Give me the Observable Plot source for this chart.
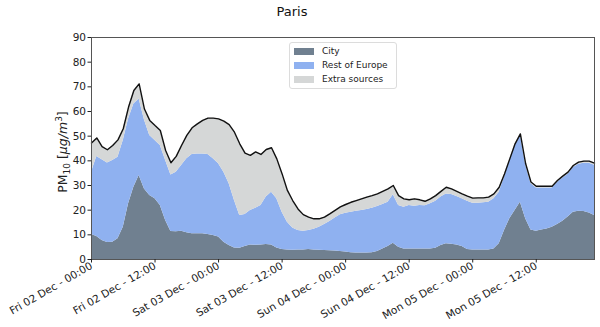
<!DOCTYPE html>
<html><head><meta charset="utf-8">
<script src="https://cdn.jsdelivr.net/npm/d3@7"></script>
<script src="https://cdn.jsdelivr.net/npm/@observablehq/plot@0.6"></script>
<style>
body{margin:0;background:#fff;font-family:"DejaVu Sans",sans-serif;}
#wrap{position:relative;width:600px;height:327px;overflow:hidden;}
#title{position:absolute;left:0;top:4px;width:584px;text-align:center;font-size:13px;color:#111;line-height:15px;}
#chart{position:absolute;left:0;top:25px;}
#legend{position:absolute;left:289px;top:42px;width:106px;height:45px;border:1px solid #dcdcdc;border-radius:3px;background:rgba(255,255,255,0.8);font-size:9px;color:#222;}
.row{position:absolute;left:0;height:14px;width:100%;}
.sw{position:absolute;left:4px;top:3px;width:20px;height:7px;}
.lb{position:absolute;left:32px;top:0;line-height:13px;white-space:nowrap;}
</style></head><body>
<div id="wrap"><div id="title">Paris</div><div id="chart"></div><div id="legend"></div></div>
<script>
const sources = ["City", "Rest of Europe", "Extra sources"];
const colors = ["#708090", "#8fb1f0", "#d5d7d7"];
const tickHours = [0, 12, 24, 36, 48, 60, 72, 84];
const tickLabels = ["Fri 02 Dec - 00:00", "Fri 02 Dec - 12:00", "Sat 03 Dec - 00:00", "Sat 03 Dec - 12:00",
  "Sun 04 Dec - 00:00", "Sun 04 Dec - 12:00", "Mon 05 Dec - 00:00", "Mon 05 Dec - 12:00"];

// hourly contributions, Fri 02 Dec 00:00 -> Mon 05 Dec 23:00
const city = [10.1,9.3,7.7,6.9,7.0,8.4,13.1,22.6,29.3,34.1,28.6,25.9,24.6,21.9,15.8,11.4,
  11.2,11.5,10.8,10.4,10.4,10.4,10.1,9.7,9.1,7.0,5.7,4.7,4.6,5.3,5.9,5.8,
  5.9,6.1,5.9,4.7,4.1,3.9,3.8,3.9,3.9,4.1,3.9,3.8,3.6,3.5,3.4,3.2,
  3.0,2.7,2.6,2.6,2.6,2.7,3.2,4.3,5.3,6.6,5.0,4.3,4.3,4.3,4.3,4.3,
  4.3,4.6,5.7,6.4,6.2,5.9,5.3,4.1,3.9,3.9,3.9,3.9,4.3,6.4,11.8,16.5,
  19.9,23.2,16.5,12.0,11.5,12.0,12.4,13.1,14.2,15.5,17.2,19.2,19.6,19.5,18.9,17.8];
const europe = [25.3,32.5,32.7,32.2,33.1,33.1,35.1,34.4,33.7,31.0,28.0,24.4,23.6,24.3,24.3,22.9,
  24.2,26.6,30.0,32.2,32.4,32.4,32.5,31.1,29.7,28.4,25.0,19.2,13.2,12.9,14.0,15.0,
  16.0,19.2,21.4,19.9,15.1,11.2,9.0,7.9,7.6,7.7,8.4,9.3,10.6,11.9,13.4,14.9,
  15.8,16.5,17.0,17.3,17.7,18.1,18.3,18.0,17.9,19.6,16.9,16.9,17.6,17.3,17.6,17.5,
  18.3,19.0,19.6,20.2,20.2,19.6,19.3,19.5,18.9,18.9,19.1,19.3,20.3,20.9,21.6,23.7,
  26.6,27.3,21.8,18.8,17.5,17.0,16.6,15.9,17.1,17.5,17.4,18.1,19.0,19.5,20.1,20.4];
const extra = [11.8,7.5,5.4,5.4,6.1,7.0,4.8,4.8,5.5,6.1,4.4,6.1,6.1,6.1,4.1,4.9,
  6.4,8.1,9.5,10.8,12.2,13.6,14.7,16.5,18.2,20.7,24.0,27.7,29.1,24.9,22.3,22.8,
  20.7,19.3,18.0,16.2,15.5,12.9,11.1,8.7,6.7,5.4,4.2,3.4,3.0,3.1,3.1,3.2,
  3.5,4.0,4.3,4.7,5.0,5.1,5.1,5.3,5.4,3.8,4.0,3.4,2.3,3.0,2.3,1.8,
  2.0,2.3,2.3,2.7,2.2,2.1,2.0,2.1,2.1,2.2,2.0,2.1,2.0,2.0,1.3,0.6,
  0.4,0.4,0.5,0.6,0.7,0.7,0.7,0.7,0.7,0.8,0.8,0.8,0.9,0.9,0.9,0.9];

const series = [city, europe, extra];
const hours = d3.range(city.length);
const rows = [];
sources.forEach((s, i) => series[i].forEach((v, h) => rows.push({hour: h, source: s, value: v})));
const totals = hours.map(h => ({hour: h, total: city[h] + europe[h] + extra[h]}));

const svg = Plot.plot({
  width: 600, height: 302,
  marginTop: 12, marginBottom: 68, marginLeft: 91, marginRight: 6,
  style: {fontFamily: "DejaVu Sans", fontSize: "10.5px", color: "#222", background: "transparent", overflow: "visible"},
  x: {domain: [0, 95]},
  y: {domain: [0, 90]},
  color: {domain: sources, range: colors},
  marks: [
    Plot.areaY(rows, {x: "hour", y: "value", fill: "source", order: sources}),
    Plot.lineY(totals, {x: "hour", y: "total", stroke: "#111", strokeWidth: 1.4}),
    Plot.frame({stroke: "#555"}),
    Plot.axisY({ticks: d3.range(0, 91, 10), tickSize: 3.5, tickPadding: 2, label: null}),
    Plot.axisX({ticks: tickHours, tickFormat: d => tickLabels[tickHours.indexOf(d)], tickRotate: -30, tickSize: 3.5, tickPadding: 2, label: null})
  ]
});
document.getElementById("chart").appendChild(svg);

// y-axis label with sub/superscripts
const lab = d3.select(svg).append("text")
  .attr("transform", "translate(67,127) rotate(-90)")
  .attr("text-anchor", "middle")
  .attr("font-family", "DejaVu Sans")
  .attr("font-size", "12.5px")
  .attr("fill", "#222");
lab.append("tspan").text("PM");
lab.append("tspan").attr("font-size", "9px").attr("dy", "3").text("10");
lab.append("tspan").attr("dy", "-3").text(" [");
lab.append("tspan").attr("font-style", "italic").text("µg/m");
lab.append("tspan").attr("font-size", "9px").attr("dy", "-5").text("3");
lab.append("tspan").attr("dy", "5").text("]");

// legend
const leg = document.getElementById("legend");
sources.forEach((s, i) => {
  const r = document.createElement("div");
  r.className = "row";
  r.style.top = (2 + i * 14) + "px";
  r.innerHTML = `<div class="sw" style="background:${colors[i]}"></div><div class="lb">${s}</div>`;
  leg.appendChild(r);
});
</script>
</body></html>
